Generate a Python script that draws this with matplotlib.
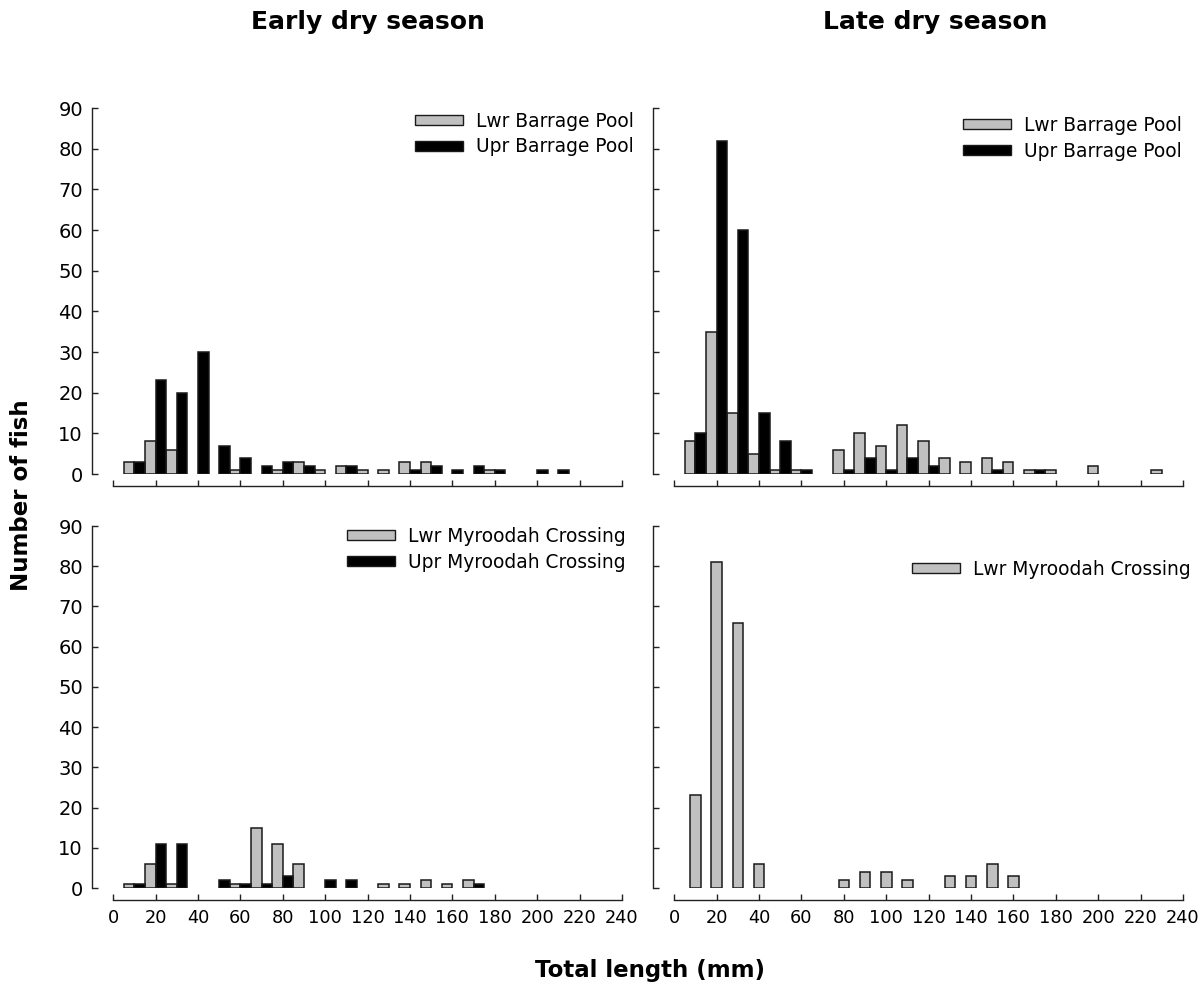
import numpy as np
import matplotlib
matplotlib.use('Agg')
import matplotlib.pyplot as plt
from matplotlib.patches import Patch

# 10 mm total length classes
length_bins = [10, 20, 30, 40, 50, 60, 70, 80, 90, 100, 110, 120,
               130, 140, 150, 160, 170, 180, 190, 200, 210, 220, 230]

# number of fish per length class
lwr_barrage_early = [3, 8, 6, 0, 0, 1, 0, 1, 3, 1, 2, 1,
                     1, 3, 3, 0, 0, 1, 0, 0, 0, 0, 0]
upr_barrage_early = [3, 23, 20, 30, 7, 4, 2, 3, 2, 0, 2, 0,
                     0, 1, 2, 1, 2, 1, 0, 1, 1, 0, 0]

lwr_barrage_late = [8, 35, 15, 5, 1, 1, 0, 6, 10, 7, 12, 8,
                    4, 3, 4, 3, 1, 1, 0, 2, 0, 0, 1]
upr_barrage_late = [10, 82, 60, 15, 8, 1, 0, 1, 4, 1, 4, 2,
                    0, 0, 1, 0, 1, 0, 0, 0, 0, 0, 0]

lwr_myroodah_early = [1, 6, 1, 0, 0, 1, 15, 11, 6, 0, 0, 0,
                      1, 1, 2, 1, 2, 0, 0, 0, 0, 0, 0]
upr_myroodah_early = [1, 11, 11, 0, 2, 1, 1, 3, 0, 2, 2, 0,
                      0, 0, 0, 0, 1, 0, 0, 0, 0, 0, 0]

lwr_myroodah_late = [23, 81, 66, 6, 0, 0, 0, 2, 4, 4, 2, 0,
                     3, 3, 6, 3, 0, 0, 0, 0, 0, 0, 0]

x_ticks = list(range(0, 241, 20))
y_ticks = list(range(0, 91, 10))

GREY = '#c0c0c0'
EDGE = '#1a1a1a'
LEGEND_SIZE = 13.4

W, H = 1202, 986


def add_axes(fig, left_px, top_px, bottom_px):
  width_px = 530
  return fig.add_axes([left_px / W, (H - bottom_px) / H,
                       width_px / W, (bottom_px - top_px) / H])


def style_axis(ax, xlabels, ylabels):
  ax.set_xlim(-10, 240)
  ax.set_ylim(0, 90)
  for side in ['top', 'right']:
    ax.spines[side].set_visible(False)
  ax.spines['bottom'].set_position(('outward', 8.5))
  ax.spines['bottom'].set_bounds(0, 240)
  ax.spines['left'].set_bounds(0, 90)
  for side in ['bottom', 'left']:
    ax.spines[side].set_linewidth(1.0)
    ax.spines[side].set_color('#222222')
  ax.set_xticks(x_ticks)
  ax.set_yticks(y_ticks)
  ax.tick_params(direction='in', length=4, width=1.0, color='#222222')
  ax.tick_params(axis='x', pad=6.5, labelsize=12.8, labelbottom=xlabels)
  ax.tick_params(axis='y', pad=6.5, labelsize=14, labelleft=ylabels)
  ax.patch.set_visible(False)


def draw_pair(ax, lwr, upr):
  bins = np.array(length_bins)
  lwr = np.array(lwr)
  upr = np.array(upr)
  keep = lwr > 0
  ax.bar(bins[keep] - 2.5, lwr[keep], width=5, color=GREY,
         edgecolor=EDGE, linewidth=1.1)
  keep = upr > 0
  ax.bar(bins[keep] + 2.5, upr[keep], width=5, color='black',
         edgecolor=EDGE, linewidth=1.1)


def draw_single(ax, values):
  bins = np.array(length_bins)
  values = np.array(values)
  keep = values > 0
  ax.bar(bins[keep], values[keep], width=5, color=GREY,
         edgecolor=EDGE, linewidth=1.1)


def add_legend(ax, labels, anchor):
  handles = [Patch(facecolor=GREY, edgecolor=EDGE, linewidth=1.0),
             Patch(facecolor='black', edgecolor=EDGE, linewidth=1.0)]
  ax.legend(handles=handles[:len(labels)], labels=labels,
            loc='upper left', bbox_to_anchor=anchor, frameon=False,
            fontsize=LEGEND_SIZE, handlelength=2.6, handleheight=0.45,
            handletextpad=0.7, labelspacing=0.35, borderpad=0,
            borderaxespad=0)


fig = plt.figure(figsize=(W / 100, H / 100), dpi=100)

ax_tl = add_axes(fig, 92, 108, 474)
ax_tr = add_axes(fig, 653, 108, 474)
ax_bl = add_axes(fig, 92, 526, 888)
ax_br = add_axes(fig, 653, 526, 888)

draw_pair(ax_tl, lwr_barrage_early, upr_barrage_early)
draw_pair(ax_tr, lwr_barrage_late, upr_barrage_late)
draw_pair(ax_bl, lwr_myroodah_early, upr_myroodah_early)
draw_single(ax_br, lwr_myroodah_late)

style_axis(ax_tl, xlabels=False, ylabels=True)
style_axis(ax_tr, xlabels=False, ylabels=False)
style_axis(ax_bl, xlabels=True, ylabels=True)
style_axis(ax_br, xlabels=True, ylabels=False)

add_legend(ax_tl, ['Lwr Barrage Pool', 'Upr Barrage Pool'], (0.609, 0.99))
add_legend(ax_tr, ['Lwr Barrage Pool', 'Upr Barrage Pool'], (0.585, 0.978))
add_legend(ax_bl, ['Lwr Myroodah Crossing', 'Upr Myroodah Crossing'],
           (0.481, 0.997))
add_legend(ax_br, ['Lwr Myroodah Crossing'], (0.488, 0.906))

fig.text(368 / W, 1 - 22 / H, 'Early dry season', fontsize=18,
         fontweight='bold', ha='center', va='center')
fig.text(935 / W, 1 - 22 / H, 'Late dry season', fontsize=18,
         fontweight='bold', ha='center', va='center')
fig.text(22 / W, 1 - 495 / H, 'Number of fish', fontsize=16.5,
         fontweight='bold', ha='center', va='center', rotation=90)
fig.text(650 / W, 1 - 971 / H, 'Total length (mm)', fontsize=16.5,
         fontweight='bold', ha='center', va='center')

fig.savefig('out.png', dpi=100)
